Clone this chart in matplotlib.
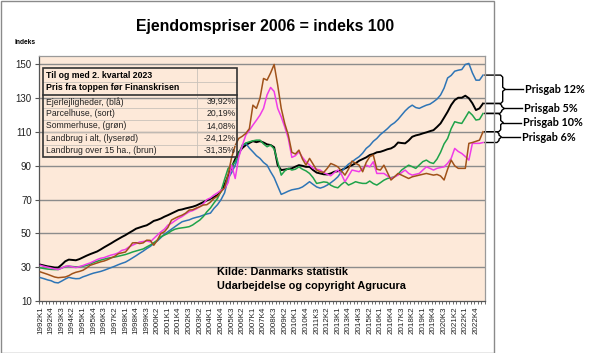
import matplotlib
matplotlib.use("Agg")
import matplotlib.pyplot as plt
from matplotlib.lines import Line2D
from matplotlib.patches import Rectangle
from matplotlib.transforms import blended_transform_factory

# ---------------- data ----------------
quarters = [f"{y}K{q}" for y in range(1992, 2024) for q in range(1, 5)][:126]

blaa = [  # Ejerlejligheder
    23.8, 23.2, 22.5, 22.0, 21.0, 20.7, 21.8, 23.0, 24.0, 23.5, 23.2, 23.3,
    24.3, 25.0, 25.8, 26.5, 27.0, 27.5, 28.2, 29.0, 29.8, 30.6, 31.5, 32.3,
    33.0, 34.2, 35.5, 36.8, 38.2, 39.5, 41.0, 42.3, 44.0, 45.5, 47.5, 49.5,
    51.0, 52.5, 54.0, 55.5, 56.9, 57.5, 58.0, 58.9, 59.5, 60.0, 60.8, 61.5,
    62.0, 64.8, 67.0, 70.0, 74.0, 82.5, 86.0, 90.4, 96.0, 101.9, 103.3, 100.5,
    98.3, 96.0, 94.4, 92.0, 90.4, 86.5, 83.0, 78.0, 73.1, 74.0, 75.0, 75.8,
    76.2, 76.6, 77.5, 79.0, 80.6, 79.0, 77.5, 76.8, 77.5, 78.6, 80.0, 81.6,
    83.5, 86.5, 89.0, 91.0, 92.4, 94.0, 95.4, 97.5, 100.3, 102.0, 104.5, 106.2,
    108.5, 110.2, 112.0, 114.1, 115.5, 117.5, 120.0, 122.5, 124.5, 125.9, 124.5, 124.0,
    125.0, 125.9, 126.5, 127.9, 129.5, 131.9, 136.0, 142.0, 143.5, 146.0, 146.6, 147.0,
    150.0, 150.6, 145.0, 140.7, 140.7, 143.7]

sort = [  # Parcelhuse
    31.5, 31.0, 30.5, 30.2, 29.8, 29.8, 31.5, 33.5, 34.5, 34.3, 34.1, 34.8,
    35.8, 36.8, 37.7, 38.5, 39.3, 40.5, 41.8, 43.0, 44.2, 45.5, 46.7, 47.9,
    49.0, 50.3, 51.5, 52.8, 53.5, 54.2, 54.8, 56.0, 57.4, 58.0, 58.8, 59.9,
    60.8, 61.8, 62.8, 63.8, 64.2, 64.8, 65.3, 65.8, 66.5, 67.5, 68.5, 69.5,
    70.5, 71.5, 72.7, 75.0, 79.0, 84.0, 89.0, 94.0, 98.0, 100.5, 102.3, 103.5,
    104.6, 104.0, 104.6, 103.8, 102.7, 102.3, 101.0, 90.4, 87.5, 87.8, 88.2, 88.5,
    89.5, 90.4, 90.0, 89.4, 89.4, 87.5, 86.0, 85.5, 85.0, 84.9, 85.5, 86.5,
    86.8, 87.5, 88.5, 89.5, 90.4, 91.5, 93.0, 94.0, 95.0, 96.4, 97.0, 98.0,
    98.3, 99.0, 99.8, 100.3, 101.5, 103.8, 103.5, 103.3, 105.0, 107.2, 108.0, 108.5,
    109.2, 109.8, 110.5, 111.1, 113.0, 115.1, 118.5, 122.0, 126.0, 128.9, 130.3, 130.3,
    131.5, 130.0, 127.0, 123.0, 124.0, 126.9]

groen = [  # Sommerhuse
    29.6, 29.2, 28.9, 28.7, 28.6, 28.6, 29.5, 30.4, 30.6, 30.4, 30.2, 30.3,
    30.6, 31.0, 31.8, 32.8, 33.5, 34.2, 34.8, 35.3, 35.7, 36.0, 36.5, 37.0,
    37.5, 38.2, 39.0, 39.6, 40.2, 40.8, 42.0, 43.1, 44.5, 46.0, 48.0, 49.0,
    50.0, 51.5, 52.5, 53.0, 53.3, 53.6, 54.0, 55.0, 56.5, 57.9, 60.0, 62.8,
    65.0, 68.0, 70.7, 75.0, 82.0, 88.5, 90.0, 92.4, 97.0, 102.3, 103.5, 104.2,
    104.8, 105.2, 105.2, 103.0, 101.3, 102.3, 100.0, 92.4, 84.5, 87.0, 88.5, 87.5,
    88.0, 89.4, 88.0, 87.0, 85.5, 83.0, 79.6, 80.0, 80.5, 80.2, 78.5, 77.5,
    77.0, 79.0, 80.6, 78.6, 79.5, 80.6, 80.0, 79.6, 79.6, 81.0, 79.5, 78.6,
    80.0, 81.5, 82.5, 83.0, 83.5, 85.0, 87.5, 89.0, 90.4, 89.5, 88.5, 90.5,
    92.5, 93.4, 92.0, 91.4, 94.0, 98.0, 103.0, 106.2, 112.0, 116.1, 115.5, 115.1,
    118.5, 122.0, 120.0, 117.1, 117.5, 121.0]

lyseroed = [  # Landbrug i alt
    31.1, 30.5, 30.0, 29.5, 29.0, 28.6, 29.5, 30.5, 30.8, 30.2, 29.8, 30.3,
    31.0, 31.8, 32.5, 33.5, 34.5, 35.3, 35.7, 36.5, 37.2, 37.7, 38.5, 40.0,
    40.5, 42.0, 43.0, 44.0, 44.9, 45.2, 45.5, 45.0, 47.0, 49.0, 50.9, 52.5,
    54.9, 56.0, 57.5, 58.9, 60.0, 61.5, 62.8, 63.5, 64.5, 65.8, 67.5, 70.0,
    71.0, 72.7, 74.0, 75.5, 76.6, 80.0, 90.4, 82.5, 95.0, 102.0, 108.2, 111.0,
    114.1, 117.0, 120.0, 124.0, 132.0, 136.4, 134.0, 124.0, 119.0, 113.0, 106.2, 95.0,
    96.0, 98.3, 95.0, 92.4, 90.5, 88.5, 88.0, 87.5, 86.0, 85.0, 84.1, 86.0,
    87.5, 85.0, 80.6, 84.0, 87.5, 87.0, 86.5, 88.5, 90.4, 89.4, 92.4, 85.5,
    85.5, 85.5, 84.0, 82.5, 83.5, 84.5, 86.0, 87.5, 85.5, 84.5, 85.0, 85.5,
    87.5, 89.4, 88.5, 87.5, 88.5, 89.0, 89.4, 91.5, 94.4, 100.3, 98.5, 97.3,
    95.5, 93.4, 103.3, 103.3, 103.3, 103.8]

brun = [  # Landbrug over 15 ha.
    27.2, 26.5, 25.8, 25.0, 24.2, 23.8, 24.0, 24.2, 25.0, 26.2, 27.0, 27.5,
    28.2, 29.5, 31.1, 31.8, 32.5, 33.2, 33.7, 34.5, 35.5, 36.5, 38.0, 38.5,
    39.0, 41.5, 44.4, 44.5, 44.0, 44.4, 46.0, 45.9, 43.0, 46.0, 49.9, 51.0,
    53.5, 57.9, 59.0, 60.0, 60.8, 62.0, 63.8, 64.0, 65.0, 65.8, 66.8, 67.0,
    68.5, 70.7, 72.0, 74.7, 77.0, 85.0, 95.0, 102.0, 106.2, 107.5, 109.2, 112.0,
    125.9, 124.0, 130.0, 141.7, 140.7, 145.0, 150.0, 137.8, 124.0, 115.0, 108.2, 98.0,
    97.0, 99.3, 94.0, 90.4, 94.4, 91.0, 87.5, 86.5, 86.1, 88.5, 91.4, 90.5,
    89.4, 87.0, 84.5, 88.0, 92.8, 91.5, 90.4, 86.5, 92.0, 95.4, 96.4, 88.0,
    87.5, 90.4, 86.0, 81.6, 83.5, 85.5, 84.5, 83.5, 82.5, 83.5, 84.0, 84.5,
    85.0, 85.5, 85.0, 84.5, 84.9, 84.0, 81.6, 88.0, 93.4, 90.0, 88.5, 88.5,
    88.5, 103.3, 103.8, 104.5, 105.2, 110.2]

tabel_navne = ["Ejerlejligheder, (blå)", "Parcelhuse, (sort)", "Sommerhuse, (grøn)",
               "Landbrug i alt, (lyserød)", "Landbrug over 15 ha., (brun)"]
tabel_pct = ["39,92%", "20,19%", "14,08%", "-24,12%", "-31,35%"]
prisgab = ["Prisgab 12%", "Prisgab 5%", "Prisgab 10%", "Prisgab 6%"]

# ---------------- figure ----------------
W, H = 615, 353
fig = plt.figure(figsize=(W / 100, H / 100), dpi=100)
plt.rcParams['font.family'] = ['Liberation Sans', 'DejaVu Sans']


def fx(px):
    return px / W


def fy(py):
    return 1 - py / H


# grey frame round the chart
fig.patches.append(Rectangle((fx(0.5), fy(352.5)), fx(494) - fx(0.5), fy(0.5) - fy(352.5),
                             transform=fig.transFigure, fill=False, ec='#8a8a8a', lw=1.0))

ax = fig.add_axes([fx(38.7), fy(301), fx(484.8) - fx(38.7), fy(56) - fy(301)])
ax.set_facecolor('#FDE9D9')
x = list(range(len(quarters)))

ax.plot(x, sort, color='black', lw=1.4, zorder=3)
ax.plot(x, blaa, color='#2E75B6', lw=1.1, zorder=3)
ax.plot(x, groen, color='#1FA34A', lw=1.1, zorder=3)
ax.plot(x, lyseroed, color='#F03CE8', lw=1.1, zorder=3)
ax.plot(x, brun, color='#A0521A', lw=1.1, zorder=3)

ax.set_xlim(-0.5, len(quarters) - 0.5)
ax.set_ylim(10, 155)
ax.set_yticks(range(10, 151, 20))
ax.tick_params(axis='y', labelsize=7, length=3, color='#555', labelcolor='#222', pad=2)
for v in range(30, 151, 20):
    ax.axhline(v, color='#8c8c8c', lw=1.0, zorder=1)

ax.set_xticks(x[::3])
ax.set_xticklabels(quarters[::3], rotation=90, fontsize=5.8, color='#222')
ax.set_xticks([i - 0.5 for i in range(len(quarters) + 1)], minor=True)
ax.tick_params(axis='x', which='major', length=0, pad=4)
ax.tick_params(axis='x', which='minor', length=2.5, color='#555')

for s in ['top', 'right']:
    ax.spines[s].set_color('#9a9a9a')
for s in ['left', 'bottom']:
    ax.spines[s].set_color('#555')
for s in ax.spines.values():
    s.set_linewidth(0.9)

fig.text(fx(265), fy(26), "Ejendomspriser 2006 = indeks 100", fontsize=11.4,
         fontweight='bold', ha='center', va='center')
fig.text(fx(14), fy(42.5), "Indeks", fontsize=4.8, fontweight='bold', va='center')

fig.text(fx(217), fy(272), "Kilde: Danmarks statistik", fontsize=7.8,
         fontweight='bold', va='center')
fig.text(fx(217), fy(286), "Udarbejdelse og copyright Agrucura", fontsize=7.8,
         fontweight='bold', va='center')

# ---------------- table ----------------
tl, tr_, tt, tb = 43, 237, 68, 157
fig.patches.append(Rectangle((fx(tl), fy(tb)), fx(tr_) - fx(tl), fy(tt) - fy(tb),
                             transform=fig.transFigure, fill=False, ec='#333', lw=1.2,
                             zorder=5))
for yy in [81.5, 107.5, 119.8, 132.3, 144.7]:
    fig.add_artist(Line2D([fx(tl), fx(tr_)], [fy(yy), fy(yy)], color='#c9c2bb', lw=0.6))
fig.add_artist(Line2D([fx(197), fx(197)], [fy(tt), fy(tb)], color='#c9c2bb', lw=0.6))
fig.add_artist(Line2D([fx(tl), fx(tr_)], [fy(94.5), fy(94.5)], color='#333', lw=1.2))

fig.text(fx(46), fy(75.5), "Til og med 2. kvartal 2023", fontsize=6.3,
         fontweight='bold', va='center')
fig.text(fx(46), fy(88), "Pris fra toppen før Finanskrisen", fontsize=6.3,
         fontweight='bold', va='center')
row_y = [101.7, 113.6, 125.9, 138.6, 150.7]
for navn, pct, yy in zip(tabel_navne, tabel_pct, row_y):
    fig.text(fx(46), fy(yy), navn, fontsize=6.2, va='center', color='#222')
    fig.text(fx(235.5), fy(yy), pct, fontsize=6.2, va='center', ha='right', color='#222')

# ---------------- brackets on the right ----------------
tr = blended_transform_factory(fig.transFigure, ax.transData)
ends = sorted([blaa[-1], sort[-1], groen[-1], lyseroed[-1], brun[-1]], reverse=True)
xv_list = [502.7, 501.7, 500.7, 499.0]
for k, lab in enumerate(prisgab):
    top, bot = ends[k], ends[k + 1]
    mid = (top + bot) / 2
    xv = xv_list[k]
    r = min(1.2, (top - bot) / 4)
    px = [485, xv - 2, xv, xv, xv + 2.5, xv, xv, xv - 2, 485]
    py = [top, top, top - r, mid + r, mid, mid - r, bot + r, bot, bot]
    ax.plot([fx(p) for p in px], py, transform=tr, color='black', lw=1.0, clip_on=False)
    ax.plot([fx(xv + 2.5), fx(xv + 20.5)], [mid, mid], transform=tr, color='black',
            lw=1.0, clip_on=False)
    ax.text(fx(xv + 22.5), mid, lab, transform=tr, fontsize=7.8, fontweight='bold',
            family=['Lato', 'DejaVu Sans'], va='center', ha='left')

fig.savefig("out.png", dpi=100)
